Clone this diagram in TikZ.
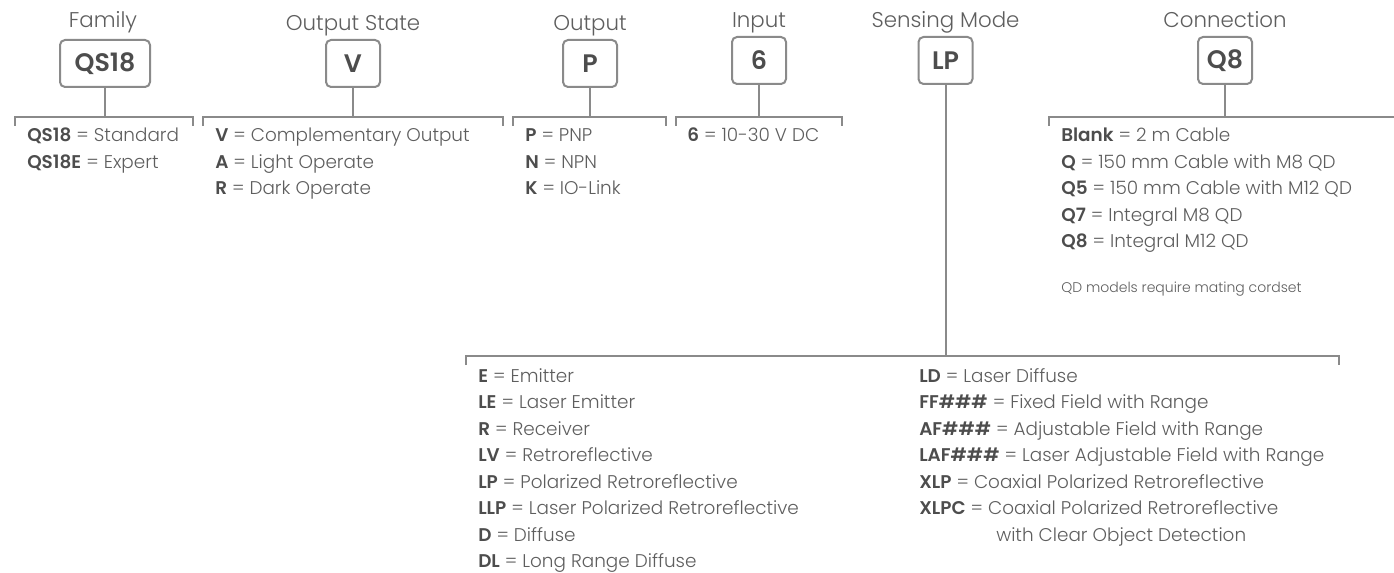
\documentclass[tikz,border=0pt]{standalone}
\usepackage{fontspec}
\setmainfont{Poppins}[UprightFont={* Light},BoldFont={* SemiBold}]
\definecolor{linegray}{HTML}{8A8A8A}
\definecolor{textgray}{HTML}{5E5E5E}
\definecolor{keygray}{HTML}{4D4D4D}
\newcommand{\kv}[2]{{\bfseries\color{keygray}#1} = #2}

\begin{document}
\begin{tikzpicture}[x=0.75pt, y=-0.75pt,
    codebox/.style={draw=linegray, line width=1.5pt, rounded corners=3.75pt,
      minimum width=40.5pt, minimum height=35.25pt, inner sep=0pt,
      text=keygray, font=\bfseries\fontsize{19}{19}\selectfont},
    title/.style={anchor=base, inner sep=0pt, text=textgray,
      font=\fontsize{16}{16}\selectfont},
    item/.style={anchor=base west, inner sep=0pt, text=textgray,
      font=\fontsize{13.8}{13.8}\selectfont},
    bracket/.style={draw=linegray, line width=1.5pt}]
  \useasboundingbox (0,0) rectangle (1394,573);

  % family
  \node[codebox, minimum width=67.5pt] (family) at (105,63.5) {QS18};
  \node[title] (familyT) at (103,28) {Family};
  \coordinate (famL) at (15,117);
  \coordinate (famR) at (193,117);
  \draw[bracket] (family.south) -- (family.south |- famL);
  \draw[bracket] (famL) ++(0,9) -- (famL) -- (famR) -- ++(0,9);
  \foreach \k/\v [count=\i from 0] in {QS18/Standard, QS18E/Expert}
    \node[item] (fam\i) at (27,{142+26.5*\i}) {\kv{\k}{\v}};

  % output state
  \node[codebox] (state) at (353,63.5) {V};
  \node[title] (stateT) at (353,31) {Output State};
  \coordinate (stateL) at (203,117);
  \coordinate (stateR) at (503,117);
  \draw[bracket] (state.south) -- (state.south |- stateL);
  \draw[bracket] (stateL) ++(0,9) -- (stateL) -- (stateR) -- ++(0,9);
  \foreach \k/\v [count=\i from 0] in {V/Complementary Output, A/Light Operate, R/Dark Operate}
    \node[item] (state\i) at (215,{142+26.5*\i}) {\kv{\k}{\v}};

  % output
  \node[codebox] (output) at (590,63.5) {P};
  \node[title] (outputT) at (590,31) {Output};
  \coordinate (outL) at (513,117);
  \coordinate (outR) at (666,117);
  \draw[bracket] (output.south) -- (output.south |- outL);
  \draw[bracket] (outL) ++(0,9) -- (outL) -- (outR) -- ++(0,9);
  \foreach \k/\v [count=\i from 0] in {P/PNP, N/NPN, K/IO-Link}
    \node[item] (out\i) at (525,{142+26.5*\i}) {\kv{\k}{\v}};

  % input
  \node[codebox] (input) at (759,60.5) {6};
  \node[title] (inputT) at (759,28) {Input};
  \coordinate (inL) at (676,117);
  \coordinate (inR) at (842,117);
  \draw[bracket] (input.south) -- (input.south |- inL);
  \draw[bracket] (inL) ++(0,9) -- (inL) -- (inR) -- ++(0,9);
  \node[item] (in0) at (687,142) {\kv{6}{10-30 V DC}};

  % sensing mode
  \node[codebox] (mode) at (945.5,60.5) {LP};
  \node[title] (modeT) at (945.5,28) {Sensing Mode};
  \coordinate (modeL) at (466,356);
  \coordinate (modeR) at (1339,356);
  \draw[bracket] (mode.south) -- (mode.south |- modeL);
  \draw[bracket] (modeL) ++(0,9) -- (modeL) -- (modeR) -- ++(0,9);
  \foreach \k/\v [count=\i from 0] in {E/Emitter, LE/Laser Emitter, R/Receiver,
      LV/Retroreflective, LP/Polarized Retroreflective,
      LLP/Laser Polarized Retroreflective, D/Diffuse, DL/Long Range Diffuse}
    \node[item] (modeA\i) at (478,{382+26.5*\i}) {\kv{\k}{\v}};
  \foreach \k/\v [count=\i from 0] in {LD/Laser Diffuse,
      FF\#\#\#/Fixed Field with Range, AF\#\#\#/Adjustable Field with Range,
      LAF\#\#\#/Laser Adjustable Field with Range,
      XLP/Coaxial Polarized Retroreflective, XLPC/Coaxial Polarized Retroreflective}
    \node[item] (modeB\i) at (919,{382+26.5*\i}) {\kv{\k}{\v}};
  \node[item] (modeB6) at (996,541) {with Clear Object Detection};

  % connection
  \node[codebox] (conn) at (1225,60.5) {Q8};
  \node[title] (connT) at (1225,28) {Connection};
  \coordinate (connL) at (1049,117);
  \coordinate (connR) at (1394,117);
  \draw[bracket] (conn.south) -- (conn.south |- connL);
  \draw[bracket] (connL) ++(0,9) -- (connL) -- (connR);
  \foreach \k/\v [count=\i from 0] in {Blank/2 m Cable, Q/150 mm Cable with M8 QD,
      Q5/150 mm Cable with M12 QD, Q7/Integral M8 QD, Q8/Integral M12 QD}
    \node[item] (conn\i) at (1061,{142+26.5*\i}) {\kv{\k}{\v}};
  \node[item, font=\fontsize{10.5}{10.5}\selectfont] (connNote) at (1061,293)
    {QD models require mating cordset};
\end{tikzpicture}
\end{document}
